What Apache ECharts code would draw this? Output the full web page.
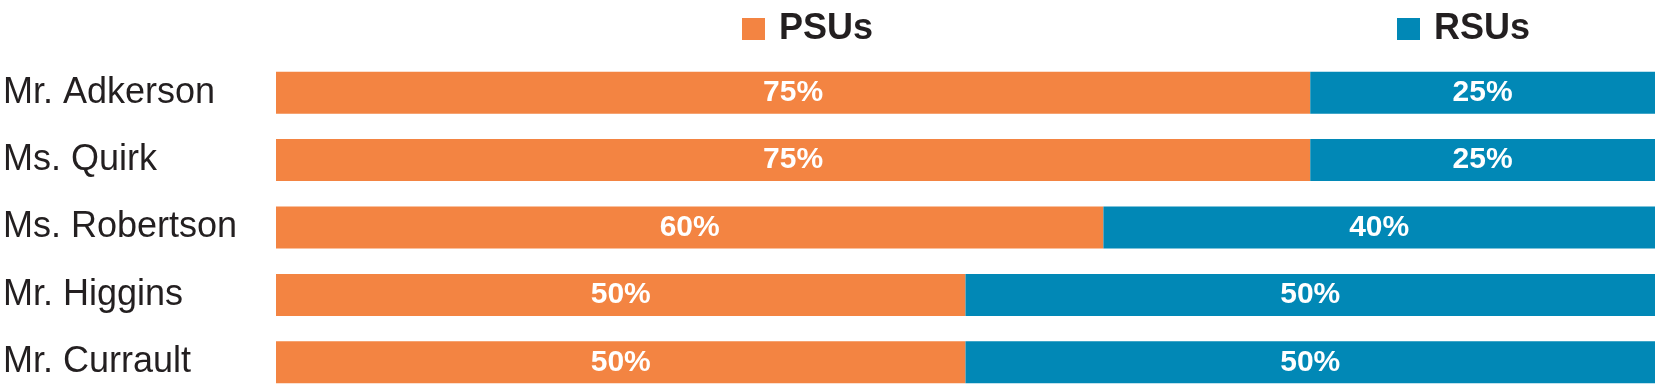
<!DOCTYPE html>
<html>
<head>
<meta charset="utf-8">
<script src="https://cdn.jsdelivr.net/npm/echarts@6/dist/echarts.min.js"></script>
<style>
html,body{margin:0;padding:0;background:#fff;}
#c{width:1655px;height:384px;}
</style>
</head>
<body>
<div id="c"></div>
<script>
const categories = ['Mr. Adkerson', 'Ms. Quirk', 'Ms. Robertson', 'Mr. Higgins', 'Mr. Currault'];
const psus = [75, 75, 60, 50, 50];
const rsus = [25, 25, 40, 50, 50];
const seriesNames = ['PSUs', 'RSUs'];

const FONT = '"Liberation Sans", Arial, sans-serif';
const ORANGE = '#F38442';
const BLUE = '#0188B6';

const chart = echarts.init(document.getElementById('c'), null, {renderer: 'canvas'});
const legendText = {fontFamily: FONT, fontSize: 36, fontWeight: 'bold', color: '#231F20', padding: [0, 0, 0, 9]};
chart.setOption({
  animation: false,
  legend: [
    {data: [seriesNames[0]], left: 737, top: 6, itemWidth: 23, itemHeight: 22, icon: 'rect', textStyle: legendText, selectedMode: false},
    {data: [seriesNames[1]], left: 1392, top: 6, itemWidth: 23, itemHeight: 22, icon: 'rect', textStyle: legendText, selectedMode: false}
  ],
  grid: {left: 276, right: 0, top: 59, height: 337, containLabel: false, outerBoundsMode: 'none'},
  xAxis: {type: 'value', min: 0, max: 100, show: false},
  yAxis: {
    type: 'category', data: categories, inverse: true,
    axisLine: {show: false}, axisTick: {show: false}, splitLine: {show: false},
    axisLabel: {align: 'left', margin: 273, fontFamily: FONT, fontSize: 36, color: '#231F20'}
  },
  series: [
    {name: seriesNames[0], type: 'bar', stack: 's', data: psus, barWidth: 42, itemStyle: {color: ORANGE},
     label: {show: true, position: 'inside', formatter: '{c}%', color: '#fff', fontFamily: FONT, fontSize: 30, fontWeight: 'bold'}},
    {name: seriesNames[1], type: 'bar', stack: 's', data: rsus, barWidth: 42, itemStyle: {color: BLUE},
     label: {show: true, position: 'inside', formatter: '{c}%', color: '#fff', fontFamily: FONT, fontSize: 30, fontWeight: 'bold'}}
  ]
});
</script>
</body>
</html>
